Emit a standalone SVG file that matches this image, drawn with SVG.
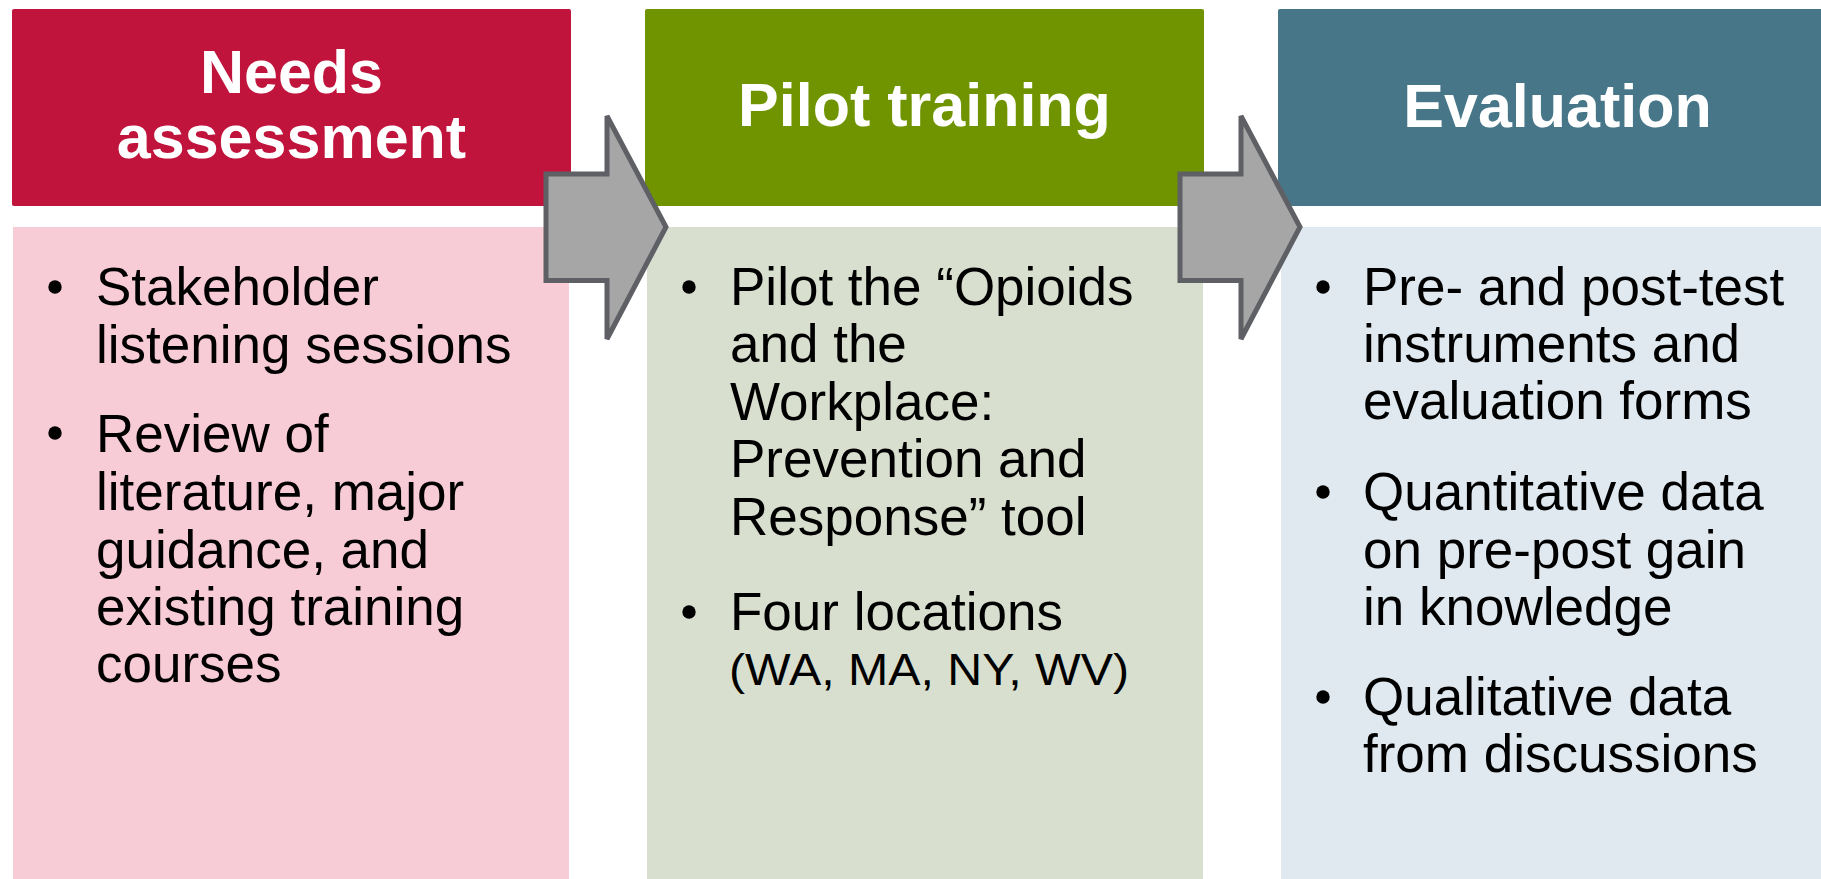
<svg xmlns="http://www.w3.org/2000/svg" width="1821" height="879" viewBox="0 0 1821 879">
<style>
.hdr{font-family:"Liberation Sans",Arial,sans-serif;font-weight:bold;font-size:61px;fill:#ffffff;text-anchor:middle}
.body{font-family:"Liberation Sans",Arial,sans-serif;font-size:53px;fill:#000000}
.small{font-family:"Liberation Sans",Arial,sans-serif;font-size:44px;fill:#000000}
.arrow{fill:#a6a6a6;stroke:#5f6065;stroke-width:5;stroke-linejoin:miter}
</style>
<rect width="1821" height="879" fill="#ffffff"/>
<g id="needs-assessment">
<rect x="12" y="9" width="559" height="197" rx="2" fill="#c0143c"/>
<text class="hdr" x="291.5" y="93">Needs</text>
<text class="hdr" x="291.5" y="158">assessment</text>
<rect x="13" y="227" width="556" height="652" fill="#f8ccd7"/>
<circle cx="55" cy="287" r="6.7"/>
<text class="body" x="96" y="305">Stakeholder</text>
<text class="body" x="96" y="363">listening sessions</text>
<circle cx="55" cy="433" r="6.7"/>
<text class="body" x="96" y="451.5">Review of</text>
<text class="body" x="96" y="510">literature, major</text>
<text class="body" x="96" y="568">guidance, and</text>
<text class="body" x="96" y="625">existing training</text>
<text class="body" x="96" y="682">courses</text>
</g>
<g id="pilot-training">
<rect x="645" y="9" width="559" height="197" rx="2" fill="#709400"/>
<text class="hdr" x="924.5" y="126">Pilot training</text>
<rect x="647" y="227" width="556" height="652" fill="#d9dfcf"/>
<circle cx="689" cy="287" r="6.7"/>
<text class="body" x="730" y="305">Pilot the “Opioids</text>
<text class="body" x="730" y="362">and the</text>
<text class="body" x="730" y="419.5">Workplace:</text>
<text class="body" x="730" y="477">Prevention and</text>
<text class="body" x="730" y="535">Response” tool</text>
<circle cx="689" cy="612" r="6.7"/>
<text class="body" x="730" y="630">Four locations</text>
<text class="small" x="729" y="685" textLength="400" lengthAdjust="spacingAndGlyphs">(WA, MA, NY, WV)</text>
</g>
<g id="evaluation">
<rect x="1278" y="9" width="559" height="197" rx="2" fill="#467687"/>
<text class="hdr" x="1557.5" y="127">Evaluation</text>
<rect x="1281" y="227" width="556" height="652" fill="#e0e9ef"/>
<circle cx="1323" cy="287" r="6.7"/>
<text class="body" x="1363" y="305">Pre- and post-test</text>
<text class="body" x="1363" y="362">instruments and</text>
<text class="body" x="1363" y="418.5">evaluation forms</text>
<circle cx="1323" cy="492" r="6.7"/>
<text class="body" x="1363" y="510">Quantitative data</text>
<text class="body" x="1363" y="567.5">on pre-post gain</text>
<text class="body" x="1363" y="625">in knowledge</text>
<circle cx="1323" cy="697" r="6.7"/>
<text class="body" x="1363" y="715">Qualitative data</text>
<text class="body" x="1363" y="772">from discussions</text>
</g>
<g id="connectors">
<polygon class="arrow" points="546,174 607,174 607,116 666,227 607,339 607,280.5 546,280.5"/>
<polygon class="arrow" points="1180,174 1241,174 1241,116 1300,227 1241,339 1241,280.5 1180,280.5"/>
</g>
</svg>
